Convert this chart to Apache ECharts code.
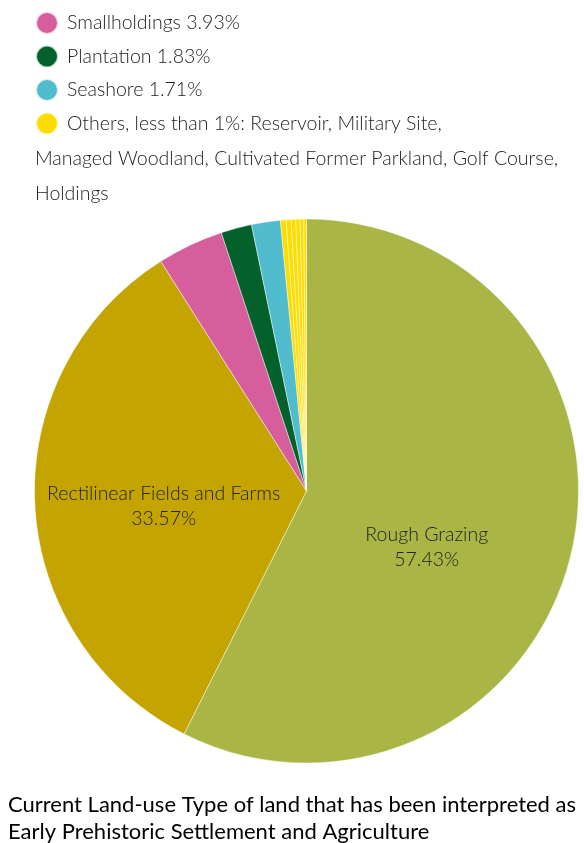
<!DOCTYPE html>
<html>
<head>
<meta charset="utf-8">
<script src="https://cdn.jsdelivr.net/npm/echarts@6/dist/echarts.min.js"></script>
<style>
  html, body { margin: 0; padding: 0; background: #fff; }
  #chart { width: 584px; height: 843px; }
</style>
</head>
<body>
<div id="chart"></div>
<script>
// Main land-use categories (percent of interpreted area)
const mainTypes = ['Rough Grazing', 'Rectilinear Fields and Farms', 'Smallholdings', 'Plantation', 'Seashore'];
const mainValues = [57.43, 33.57, 3.93, 1.83, 1.71];
const mainColors = ['#A9B646', '#C3A400', '#D65E9C', '#05612B', '#50BCCD'];

// Minor categories, each under 1%, grouped as "Others"
const otherTypes = ['Reservoir', 'Military Site', 'Managed Woodland', 'Cultivated Former Parkland', 'Golf Course', 'Holdings'];
const otherValues = [0.33, 0.30, 0.27, 0.25, 0.22, 0.16];
const otherColor = '#FFDC00';
const otherName = 'Others';

const titleLines = [
  'Current Land-use Type of land that has been interpreted as',
  'Early Prehistoric Settlement and Agriculture'
];

const FONT = 'Lato, "Open Sans", sans-serif';

const pieData = [];
mainTypes.forEach((n, i) => pieData.push({ name: n, value: mainValues[i], itemStyle: { color: mainColors[i] } }));
otherTypes.forEach((n, i) => pieData.push({
  name: otherName, type: n, value: otherValues[i],
  itemStyle: { color: otherColor }
}));
// Only the two large slices carry a label
pieData.forEach((d, i) => { if (i >= 2) d.label = { show: false }; });

const legendText = {
  Smallholdings: 'Smallholdings ' + mainValues[2].toFixed(2) + '%',
  Plantation: 'Plantation ' + mainValues[3].toFixed(2) + '%',
  Seashore: 'Seashore ' + mainValues[4].toFixed(2) + '%',
  Others: 'Others, less than 1%: ' + otherTypes.slice(0, 2).join(', ') + ','
};
const legendContinuation = otherTypes.slice(2, 5).join(', ') + ',\n' + otherTypes.slice(5).join(', ');

// Small nudges for the two in-slice labels
const labelShift = [[-15, 24], [-4, 8]];

const chart = echarts.init(document.getElementById('chart'), null, { renderer: 'canvas' });
chart.setOption({
  animation: false,
  backgroundColor: '#fff',
  title: {
    text: titleLines.join('\n'),
    left: 8,
    top: 791,
    padding: 0,
    textStyle: { fontFamily: FONT, fontSize: 22, fontWeight: 'normal', color: '#000', lineHeight: 27 }
  },
  legend: {
    orient: 'vertical',
    left: 35,
    top: 11,
    padding: 0,
    icon: 'circle',
    itemWidth: 22,
    itemHeight: 22,
    itemGap: 9.5,
    selectedMode: false,
    data: ['Smallholdings', 'Plantation', 'Seashore', otherName],
    formatter: name => legendText[name],
    textStyle: { fontFamily: FONT, fontSize: 19.5, fontWeight: 300, color: '#222', lineHeight: 22, padding: [0, 0, 0, 4] }
  },
  graphic: [{
    type: 'text',
    left: 35,
    top: 141,
    style: {
      text: legendContinuation,
      font: '300 19.5px ' + FONT,
      fill: '#222',
      lineHeight: 35
    }
  }],
  series: [{
    type: 'pie',
    center: [306.5, 491],
    radius: 272,
    startAngle: 90,
    clockwise: true,
    avoidLabelOverlap: false,
    itemStyle: { borderColor: 'rgba(255,255,255,0.75)', borderWidth: 0.6 },
    emphasis: { disabled: true },
    label: {
      show: true,
      position: 'inside',
      fontFamily: FONT,
      fontSize: 19.5,
      fontWeight: 300,
      color: '#222',
      lineHeight: 25,
      formatter: p => p.name + '\n' + p.value.toFixed(2) + '%'
    },
    labelLine: { show: false },
    labelLayout: p => {
      const s = labelShift[p.dataIndex];
      return s ? { dx: s[0], dy: s[1] } : {};
    },
    data: pieData
  }]
});
</script>
</body>
</html>
